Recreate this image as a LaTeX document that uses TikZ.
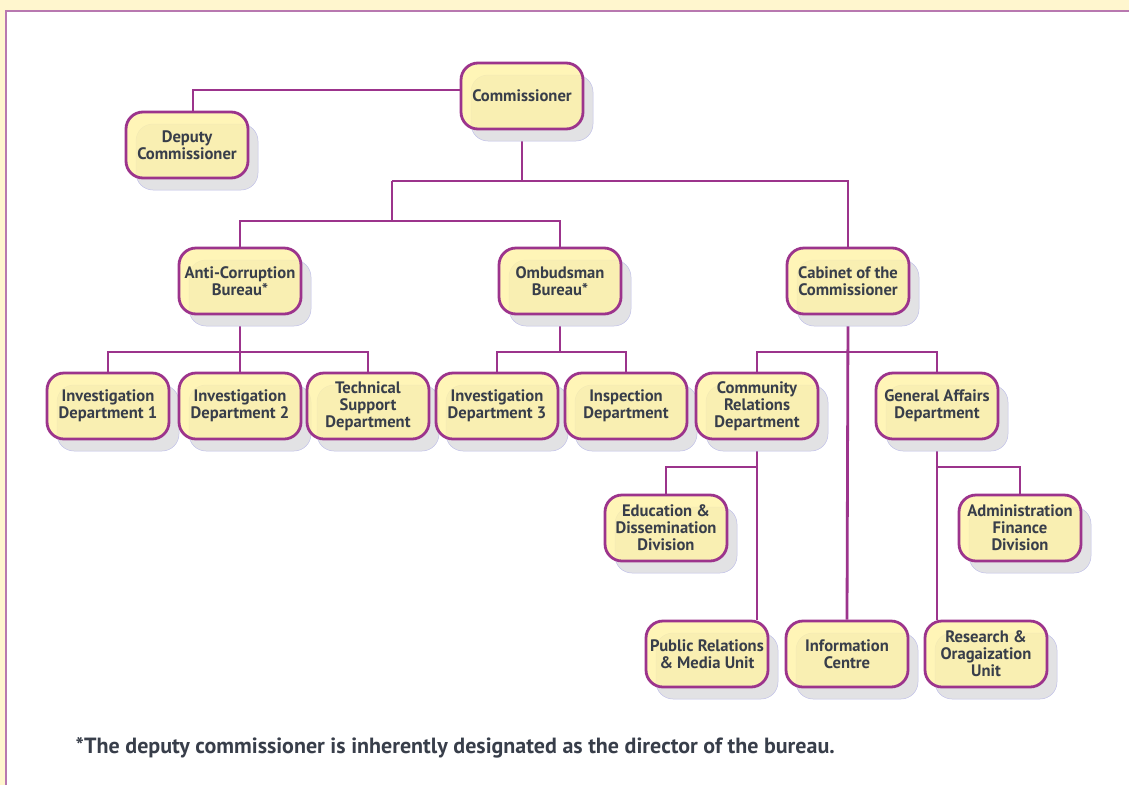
\documentclass[tikz,border=0pt]{standalone}
\usepackage{fontspec}
\setmainfont{PT Sans}
\usepackage{tikz}
\usetikzlibrary{shadows,backgrounds,calc}
\definecolor{orgline}{RGB}{156,52,140}
\definecolor{orgfill}{RGB}{255,243,168}
\definecolor{orgshadow}{RGB}{226,226,228}
\definecolor{orgtext}{RGB}{56,62,74}
\definecolor{pagetint}{RGB}{255,246,206}
\definecolor{framepurple}{RGB}{184,120,176}
\pgfdeclarelayer{lines}
\pgfsetlayers{background,lines,main}
\tikzset{
    unit/.style={
        draw=orgline,
        line width=2.8pt,
        rounded corners=17pt,
        fill=orgfill,
        fill opacity=0.82,
        text opacity=1,
        text=orgtext,
        minimum width=122pt,
        minimum height=66pt,
        align=center,
        inner sep=1pt,
        font=\fontsize{16.6}{17}\selectfont\bfseries,
        drop shadow={shadow xshift=10pt, shadow yshift=-12pt,
            fill=orgshadow, draw=orgshadow!85!blue, line width=0.5pt, opacity=1}
    },
    link/.style={
        draw=orgline,
        line width=2.8pt
    }
}

\begin{document}
\begin{tikzpicture}[x=1pt, y=-1pt]
  \useasboundingbox (0,0) rectangle (1129,785);
  \begin{pgfonlayer}{background}
    \fill[pagetint] (0,0) rectangle (1129,785);
    \fill[white] (6,11) rectangle (1129,785);
    \draw[framepurple, line width=2pt] (5.5,785) -- (5.5,10.5) -- (1129,10.5);
  \end{pgfonlayer}

  % top levels
  \node[unit] (comm) at (522,96)  {Commissioner};
  \node[unit] (dep)  at (187,145) {Deputy\\Commissioner};
  \node[unit] (acb)  at (240,281) {Anti-Corruption\\Bureau*};
  \node[unit] (omb)  at (560,281) {Ombudsman\\Bureau*};
  \node[unit] (cab)  at (848,281) {Cabinet of the\\Commissioner};

  % departments
  \node[unit] (id1)  at (108,406) {Investigation\\Department 1};
  \node[unit] (id2)  at (240,406) {Investigation\\Department 2};
  \node[unit] (tsd)  at (368,406) {Technical\\Support\\Department};
  \node[unit] (id3)  at (497,406) {Investigation\\Department 3};
  \node[unit] (insp) at (626,406) {Inspection\\Department};
  \node[unit] (crd)  at (757,406) {Community\\Relations\\Department};
  \node[unit] (gad)  at (937,406) {General Affairs\\Department};

  % divisions and units
  \node[unit] (edu)  at (666,528) {Education \&\\Dissemination\\Division};
  \node[unit] (adm)  at (1020,528) {Administration\\Finance\\Division};
  \node[unit] (pr)   at (707,654) {Public Relations\\\& Media Unit};
  \node[unit] (info) at (847,654) {Information\\Centre};
  \node[unit] (res)  at (986,654) {Research \&\\Oragaization\\Unit};

  \node[anchor=west, text=orgtext, font=\fontsize{22}{24}\selectfont\bfseries] (note) at (72,748)
    {*The deputy commissioner is inherently designated as the director of the bureau.};

  \coordinate (h1) at (392,181);
  \coordinate (h2) at (392,221);
  \coordinate (h3) at (0,352);
  \coordinate (h4) at (0,467);

  \begin{pgfonlayer}{lines}
    \draw[link] ([yshift=6pt]comm.west) -| ([xshift=6pt]dep.north);
    \draw[link] (comm.south) -- (comm.south |- h1);
    \draw[link] (h1) -| (cab.north);
    \draw[link] (h1) -- (h2);
    \draw[link] (acb.north) |- (h2) -| (omb.north);
    % bureaux
    \draw[link] (acb.south) -- (id2.north);
    \draw[link] (id1.north) -- (id1.north |- h3) -| (tsd.north);
    \draw[link] (omb.south) -- (omb.south |- h3);
    \draw[link] (id3.north) -- (id3.north |- h3) -| (insp.north);
    % cabinet
    \draw[link] (cab.south) -- (info.north);
    \draw[link] (crd.north) -- (crd.north |- h3) -| (gad.north);
    \draw[link] (crd.south) -- (crd.south |- pr.north);
    \draw[link] (edu.north) |- (crd.south |- h4);
    \draw[link] (gad.south) -- (gad.south |- res.north);
    \draw[link] (adm.north) |- (gad.south |- h4);
  \end{pgfonlayer}
\end{tikzpicture}
\end{document}
